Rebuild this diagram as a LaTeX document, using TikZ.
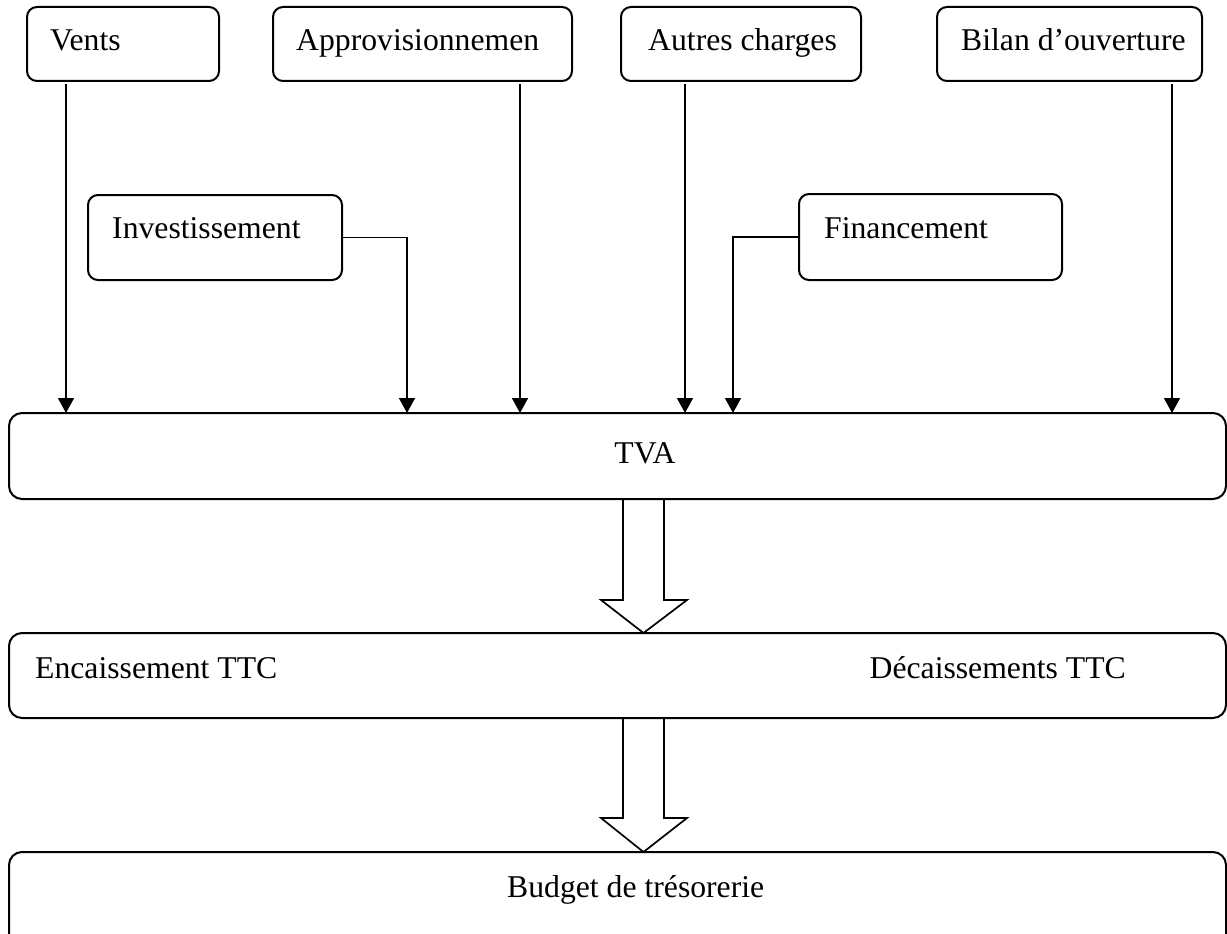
\documentclass[tikz,border=0pt]{standalone}
\usepackage{fontspec}
\setmainfont{Liberation Serif}
\usetikzlibrary{arrows.meta,calc}
\begin{document}
\begin{tikzpicture}[x=1pt,y=-1pt,
  box/.style={draw, line width=2pt, rounded corners=10pt, inner sep=0pt, outer sep=0pt, anchor=north west},
  wide/.style={draw, line width=2pt, rounded corners=13pt, inner sep=0pt, outer sep=0pt, anchor=north west},
  lbl/.style={inner sep=0pt, font=\fontsize{31.7}{38}\selectfont},
  flow/.style={line width=1.6pt, -{Triangle[width=16pt,length=15pt]}},
  fat/.style={draw, line width=1.7pt, line join=miter}]
\useasboundingbox (0,0) rectangle (1227,934);
\clip (0,0) rectangle (1227,934);

% source boxes
\node[box, minimum width=192, minimum height=74] (vents) at (27,7) {};
\node[box, minimum width=299, minimum height=74] (appro) at (273,7) {};
\node[box, minimum width=240, minimum height=74] (autres) at (621,7) {};
\node[box, minimum width=265, minimum height=74] (bilan) at (937,7) {};
\node[box, minimum width=254, minimum height=85] (inv) at (88,195) {};
\node[box, minimum width=263, minimum height=86] (fin) at (799,194) {};

% wide boxes
\node[wide, minimum width=1217, minimum height=86] (tva) at (9,413) {};
\node[wide, minimum width=1217, minimum height=85] (enc) at (9,633) {};
\node[wide, minimum width=1217, minimum height=95] (bud) at (9,852) {};

% labels
\node[lbl, anchor=base west] (tvents) at (50,51) {Vents};
\node[lbl, anchor=base west] (tappro) at (296,51) {Approvisionnemen};
\node[lbl, anchor=base west] (tautres) at (648,51) {Autres charges};
\node[lbl, anchor=base west] (tbilan) at (961,51) {Bilan d’ouverture};
\node[lbl, anchor=base west] (tinv) at (112,238) {Investissement};
\node[lbl, anchor=base west] (tfin) at (824,238) {Financement};
\node[lbl, anchor=base] (ttva) at (645,463) {TVA};
\node[lbl, anchor=base west] (tenc) at (35,678) {Encaissement TTC};
\node[lbl, anchor=base east] (tdec) at (1126,678) {Décaissements TTC};
\node[lbl, anchor=base west] (tbud) at (507,897) {Budget de trésorerie};

% columns of the feed lines
\coordinate (cv) at (66,0);
\coordinate (ca) at (520,0);
\coordinate (cc) at (685,0);
\coordinate (cb) at (1172,0);
\coordinate (ci) at (407,0);
\coordinate (cf) at (733,0);

\draw[flow, shorten <=3pt] (vents.south -| cv) -- (cv |- tva.north);
\draw[flow, shorten <=3pt] (appro.south -| ca) -- (ca |- tva.north);
\draw[flow, shorten <=3pt] (autres.south -| cc) -- (cc |- tva.north);
\draw[flow, shorten <=3pt] (bilan.south -| cb) -- (cb |- tva.north);
\draw[flow] (inv.east) -| (ci |- tva.north);
\draw[flow] (fin.west) -| (cf |- tva.north);

% hollow block arrows
\coordinate (ba) at (643.5,0);
\path (ba |- tva.south) coordinate (s1) (ba |- enc.north) coordinate (t1)
      (ba |- enc.south) coordinate (s2) (ba |- bud.north) coordinate (t2);
\draw[fat] ($(s1)+(-20.5,0)$) -- ($(t1)+(-20.5,-33)$) -- ($(t1)+(-42.5,-33)$) -- (t1)
  -- ($(t1)+(43.5,-33)$) -- ($(t1)+(20.5,-33)$) -- ($(s1)+(20.5,0)$);
\draw[fat] ($(s2)+(-20.5,0)$) -- ($(t2)+(-20.5,-34)$) -- ($(t2)+(-42.5,-34)$) -- (t2)
  -- ($(t2)+(43.5,-34)$) -- ($(t2)+(20.5,-34)$) -- ($(s2)+(20.5,0)$);
\end{tikzpicture}
\end{document}
